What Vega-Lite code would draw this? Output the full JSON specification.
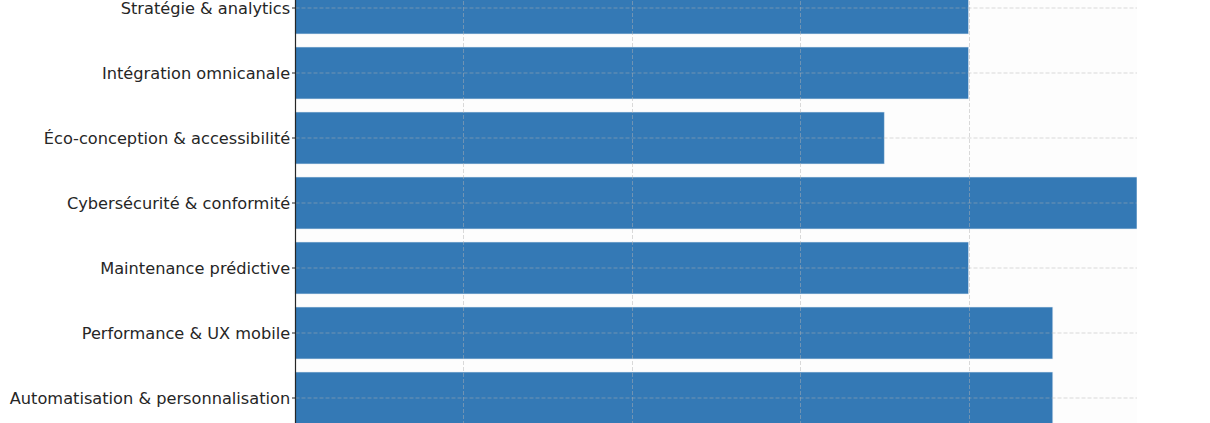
{
  "$schema": "https://vega.github.io/schema/vega-lite/v6.json",
  "background": "white",
  "autosize": "none",
  "padding": {"left": 295, "top": -24.5, "right": 0, "bottom": 0},
  "width": 842,
  "height": 455,
  "data": {
    "values": [
      {"domaine": "Stratégie & analytics", "score": 4},
      {"domaine": "Intégration omnicanale", "score": 4},
      {"domaine": "Éco-conception & accessibilité", "score": 3.5},
      {"domaine": "Cybersécurité & conformité", "score": 5},
      {"domaine": "Maintenance prédictive", "score": 4},
      {"domaine": "Performance & UX mobile", "score": 4.5},
      {"domaine": "Automatisation & personnalisation", "score": 4.5}
    ]
  },
  "config": {
    "view": {"stroke": null, "fill": "#fdfdfd"},
    "font": "DejaVu Sans"
  },
  "mark": {"type": "bar", "color": "#3479b5", "stroke": "#e8eef5", "strokeWidth": 0.6},
  "encoding": {
    "y": {
      "field": "domaine",
      "type": "nominal",
      "sort": null,
      "scale": {"paddingInner": 0.2, "paddingOuter": 0.1},
      "axis": {
        "title": null,
        "labelFontSize": 16.2,
        "labelLimit": 0,
        "labelColor": "#262626",
        "labelPadding": 1.8,
        "labelOffset": 1,
        "domainColor": "#262626",
        "domainWidth": 1.2,
        "tickColor": "#262626",
        "tickSize": 3.5,
        "grid": true,
        "gridColor": "#b0b0b0",
        "gridOpacity": 0.6,
        "gridDash": [4, 2],
        "gridWidth": 0.8,
        "zindex": 1
      }
    },
    "x": {
      "field": "score",
      "type": "quantitative",
      "scale": {"domain": [0, 5], "nice": false},
      "axis": {
        "title": null,
        "labels": false,
        "ticks": false,
        "domain": false,
        "values": [0, 1, 2, 3, 4, 5],
        "gridColor": "#b0b0b0",
        "gridOpacity": 0.6,
        "gridDash": [4, 2],
        "gridWidth": 0.8,
        "zindex": 1
      }
    }
  }
}
